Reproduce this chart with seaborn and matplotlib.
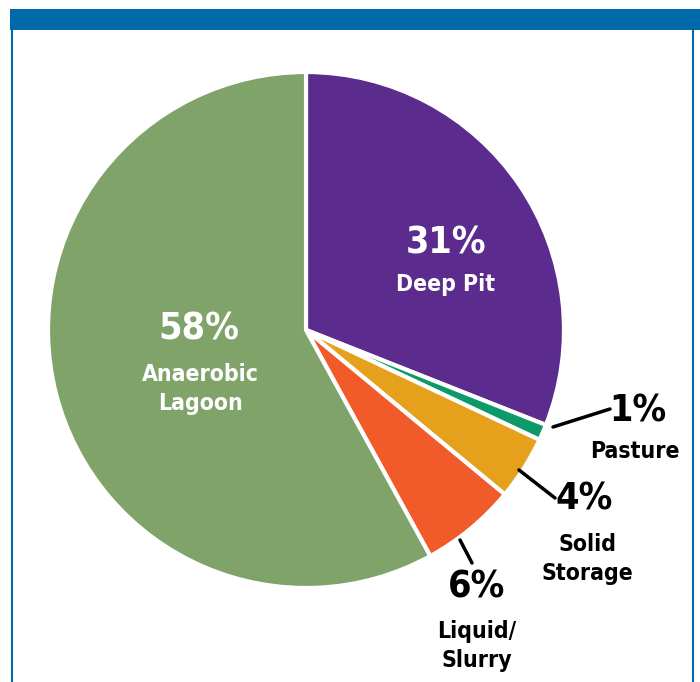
import matplotlib
matplotlib.use("Agg")
import matplotlib.pyplot as plt
import seaborn as sns
from matplotlib.patches import Rectangle

# data, clockwise from 12 o'clock
categories = ["Deep Pit", "Pasture", "Solid Storage", "Liquid/Slurry", "Anaerobic Lagoon"]
shares = [31, 1, 4, 6, 58]
label_text = ["Deep Pit", "Pasture", "Solid\nStorage", "Liquid/\nSlurry", "Anaerobic\nLagoon"]
colors = ["#5B2C8E", "#0E9A68", "#E6A11C", "#F15B2A", "#80A36A"]

sns.set_theme(style="white")
plt.rcParams["font.family"] = ["DejaVu Sans"]

W, H = 700, 682
fig = plt.figure(figsize=(W / 100, H / 100), dpi=100)
ax = fig.add_axes([0, 0, 1, 1])

cx, cy, r = 306, H - 330, 258
ax.pie(shares, colors=colors, startangle=90, counterclock=False,
       center=(cx, cy), radius=r, frame=True,
       wedgeprops=dict(edgecolor="white", linewidth=3))
ax.set_xlim(0, W)
ax.set_ylim(0, H)
ax.set_aspect("equal")
ax.axis("off")

# frame: blue header bar and thin side rules
blue = "#0069AA"
ax.add_patch(Rectangle((10, H - 30), W - 10, 21, color=blue, lw=0))
ax.plot([12, 12], [0, H - 30], color=blue, lw=1.5)
ax.plot([693, 693], [0, H - 30], color=blue, lw=1.5)

# label placements (pixel coords from top)
pct_pos = [(446, 244), (638, 412), (584, 499), (477, 588), (199, 330)]
lab_pos = [(446, 285), (635, 451), (587, 559), (477, 646), (200, 389)]
text_col = ["white", "black", "black", "black", "white"]
leaders = {1: [(553, 427), (610, 409)], 2: [(519, 470), (555, 498)], 3: [(460, 540), (472, 563)]}

font = dict(family="DejaVu Sans", fontstretch="condensed", fontweight="bold")
for i, cat in enumerate(categories):
    px, py = pct_pos[i]
    ax.text(px, H - py, f"{shares[i]}%", ha="center", va="center",
            fontsize=27, color=text_col[i], **font)
    lx, ly = lab_pos[i]
    ax.text(lx, H - ly, label_text[i], ha="center", va="center",
            fontsize=16.5, color=text_col[i], linespacing=1.35, **font)
    if i in leaders:
        (x0, y0), (x1, y1) = leaders[i]
        ax.plot([x0, x1], [H - y0, H - y1], color="black", lw=2.5)

fig.savefig("out.png", dpi=100)
